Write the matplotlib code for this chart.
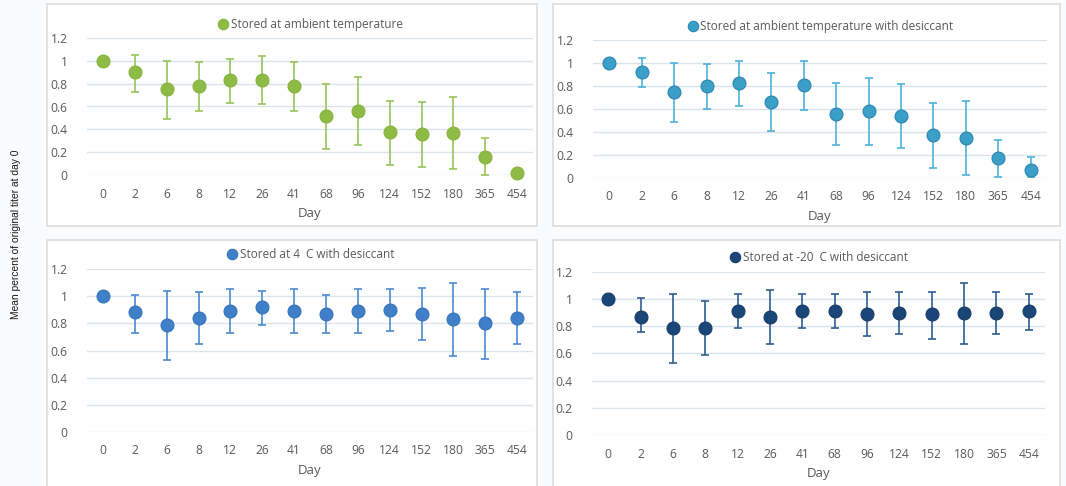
import numpy as np
import matplotlib.pyplot as plt
from matplotlib.patches import Rectangle
from matplotlib.lines import Line2D

days = ["0", "2", "6", "8", "12", "26", "41", "68", "96", "124", "152", "180", "365", "454"]

# mean fraction of original titer, with lower / upper ends of the error bars
ambient = [1.00, 0.90, 0.75, 0.78, 0.83, 0.83, 0.78, 0.52, 0.56, 0.38, 0.36, 0.37, 0.16, 0.02]
ambient_lo = [1.00, 0.73, 0.49, 0.56, 0.63, 0.62, 0.56, 0.23, 0.26, 0.09, 0.07, 0.05, 0.00, 0.02]
ambient_hi = [1.00, 1.05, 1.00, 0.99, 1.02, 1.04, 0.99, 0.80, 0.86, 0.65, 0.64, 0.68, 0.32, 0.02]

ambient_des = [1.00, 0.92, 0.75, 0.80, 0.83, 0.66, 0.81, 0.56, 0.58, 0.54, 0.37, 0.35, 0.17, 0.07]
ambient_des_lo = [1.00, 0.79, 0.49, 0.60, 0.63, 0.41, 0.59, 0.29, 0.29, 0.26, 0.09, 0.03, 0.01, 0.01]
ambient_des_hi = [1.00, 1.04, 1.00, 0.99, 1.02, 0.91, 1.02, 0.83, 0.87, 0.82, 0.65, 0.67, 0.33, 0.18]

c4_des = [1.00, 0.88, 0.79, 0.84, 0.89, 0.92, 0.89, 0.87, 0.89, 0.90, 0.87, 0.83, 0.80, 0.84]
c4_des_lo = [1.00, 0.73, 0.53, 0.65, 0.73, 0.79, 0.73, 0.73, 0.73, 0.74, 0.68, 0.56, 0.54, 0.65]
c4_des_hi = [1.00, 1.01, 1.04, 1.03, 1.05, 1.04, 1.05, 1.01, 1.05, 1.05, 1.06, 1.10, 1.05, 1.03]

m20_des = [1.00, 0.87, 0.79, 0.79, 0.91, 0.87, 0.91, 0.91, 0.89, 0.90, 0.89, 0.90, 0.90, 0.91]
m20_des_lo = [1.00, 0.76, 0.53, 0.59, 0.79, 0.67, 0.79, 0.79, 0.73, 0.74, 0.71, 0.67, 0.74, 0.77]
m20_des_hi = [1.00, 1.01, 1.04, 0.99, 1.04, 1.07, 1.04, 1.04, 1.05, 1.05, 1.05, 1.12, 1.05, 1.04]

W, H = 1066, 486
TXT = "#595959"
GRID = "#dae2ea"
FONT = "Open Sans"

fig = plt.figure(figsize=(W / 100, H / 100), dpi=100)
fig.patch.set_facecolor("#fafbfc")


def px_rect(x0, y0, x1, y1):
    return [x0 / W, 1 - y1 / H, (x1 - x0) / W, (y1 - y0) / H]


# panel frames, kept under the axes
for (x0, y0, x1, y1) in [(47, 4, 537, 226), (553, 4, 1060, 226),
                         (47, 240, 537, 490), (553, 240, 1060, 490)]:
    r = px_rect(x0, y0, x1, y1)
    fig.patches.append(Rectangle((r[0], r[1]), r[2], r[3], transform=fig.transFigure,
                                 facecolor="white", edgecolor="#dcdcdc", linewidth=1.2,
                                 zorder=-5))


def draw_panel(ax, mean, lo, hi, label, face, edge, ecol):
    x = np.arange(len(days))
    mean = np.array(mean)
    err = [mean - np.array(lo), np.array(hi) - mean]
    ax.errorbar(x, mean, yerr=err, fmt="none", ecolor=ecol, elinewidth=1.2,
                capsize=3, capthick=1.2, zorder=2, clip_on=False)
    ax.plot(x, mean, "o", ms=9.3, mfc=face, mec=edge, mew=0.8, zorder=3,
            clip_on=False, linestyle="none")
    ax.set_xlim(-0.5, len(days) - 0.5)
    ax.set_ylim(0, 1.2)
    ax.set_yticks([0, 0.2, 0.4, 0.6, 0.8, 1.0, 1.2])
    ax.set_yticklabels(["0", "0.2", "0.4", "0.6", "0.8", "1", "1.2"])
    ax.set_xticks(x)
    ax.set_xticklabels(days)
    ax.tick_params(length=0, labelsize=8.7, labelcolor=TXT, pad=9)
    ax.tick_params(axis="y", pad=14)
    for lab in ax.get_xticklabels() + ax.get_yticklabels():
        lab.set_family(FONT)
    ax.grid(axis="y", color=GRID, linewidth=1.0)
    ax.set_axisbelow(True)
    for s in ax.spines.values():
        s.set_visible(False)
    ax.set_facecolor("none")
    ax.set_xlabel("Day", fontsize=9.5, color=TXT, family=FONT, labelpad=5)
    h = Line2D([], [], marker="o", ms=7.5, mfc=face, mec=edge, mew=0.8, linestyle="none")
    ax.legend([h], [label], loc="lower center", bbox_to_anchor=(0.5, 1.01), frameon=False,
              handletextpad=0.15, borderpad=0, handlelength=1.0,
              prop={"family": FONT, "size": 8.5}, labelcolor=TXT)


ax1 = fig.add_axes(px_rect(87, 38, 533, 175))
draw_panel(ax1, ambient, ambient_lo, ambient_hi, "Stored at ambient temperature",
           "#8dbb45", "#86b33e", "#97c35a")

ax2 = fig.add_axes(px_rect(593, 40, 1047, 178))
draw_panel(ax2, ambient_des, ambient_des_lo, ambient_des_hi,
           "Stored at ambient temperature with desiccant",
           "#3b9fc8", "#2a86b0", "#4db2da")

ax3 = fig.add_axes(px_rect(87, 269, 533, 432))
draw_panel(ax3, c4_des, c4_des_lo, c4_des_hi, "Stored at 4  C with desiccant",
           "#3f80c8", "#3573bb", "#4a8ad0")

ax4 = fig.add_axes(px_rect(592, 272, 1045, 435))
draw_panel(ax4, m20_des, m20_des_lo, m20_des_hi, "Stored at -20  C with desiccant",
           "#1b4678", "#163c68", "#2e5e8e")

fig.text(16 / W, 1 - 234 / H, "Mean percent of original titer at day 0", rotation=90,
         ha="center", va="center", fontsize=7.4, family="Liberation Sans", color="#1a1a1a")

fig.savefig("out.png", dpi=100, facecolor=fig.get_facecolor())
